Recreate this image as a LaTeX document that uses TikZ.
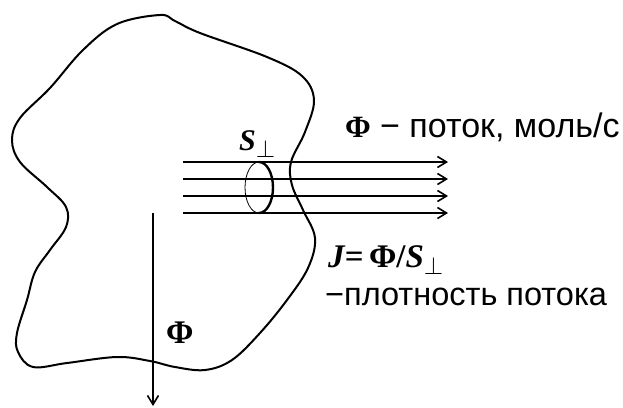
\documentclass[tikz,border=0pt]{standalone}
\usepackage{fontspec}
\setmainfont{Liberation Serif}
\setsansfont{Liberation Sans}
\usetikzlibrary{arrows.meta}
\begin{document}
\begin{tikzpicture}[x=1pt,y=-1pt,
  line/.style={line width=2pt},
  flow/.style={line width=2pt,-{Straight Barb[length=9pt,width=11pt,line width=1.6pt]}},
  sans/.style={font=\sffamily\fontsize{34}{36}\selectfont,inner sep=0pt,anchor=base west},
  phi/.style={font=\bfseries\fontsize{31}{34}\selectfont,inner sep=0pt,anchor=base west},
  bi/.style={font=\bfseries\itshape\fontsize{30}{33}\selectfont,inner sep=0pt,anchor=base west}]
\useasboundingbox (0,0) rectangle (623,407);
% blob
\draw[line] plot[smooth cycle,tension=0.6] coordinates{
 (160,15) (175,21) (200,33) (267,57) (302,76) (314,100) (305,132) (291,162)
 (292,185) (303,210) (315,238) (308,268) (287,300) (260,333) (232,360) (205,370)
 (175,367) (150,361) (117,357) (67,363) (33,367) (18,352) (17,333) (27,300) (35,272)
 (50,250) (66,227) (66,207) (47,187) (20,162) (12,140) (20,118) (50,88) (83,50) (117,24)};
% flux lines
\foreach \y/\n in {162/a,179/b,196/c,213/d}{
  \coordinate (s\n) at (183,\y);
  \coordinate (e\n) at (448,\y);
  \draw[flow] (s\n) -- (e\n);
}
% cross-section ellipse
\coordinate (et) at (259,162);
\draw[line width=0.8pt] (et) arc[start angle=270,end angle=90,x radius=14,y radius=25.5];
\draw[line width=2.4pt] (et) arc[start angle=270,end angle=450,x radius=14,y radius=25.5];
% vertical arrow
\coordinate (vs) at (153,213);
\coordinate (ve) at (153,406);
\draw[flow] (vs) -- (ve);
% labels
\node[bi] (Slab) at (239,150) {S\raisebox{-7pt}{\normalfont\fontsize{28}{30}\selectfont$\perp$}};
\node[phi] (Phi1) at (345,137) {Φ};
\node[sans] (flux) at (380,137) {− поток, моль/с};
\node[bi,font=\bfseries\itshape\fontsize{33}{36}\selectfont] (J) at (328,267) {J=\,\upshape Φ/\itshape S\raisebox{-7pt}{\normalfont\fontsize{30}{32}\selectfont$\perp$}};
\node[sans,font=\sffamily\fontsize{32.5}{35}\selectfont] (dens) at (325,305) {−плотность потока};
\node[phi,font=\bfseries\fontsize{33}{36}\selectfont] (Phi2) at (166,343) {Φ};
\end{tikzpicture}
\end{document}
